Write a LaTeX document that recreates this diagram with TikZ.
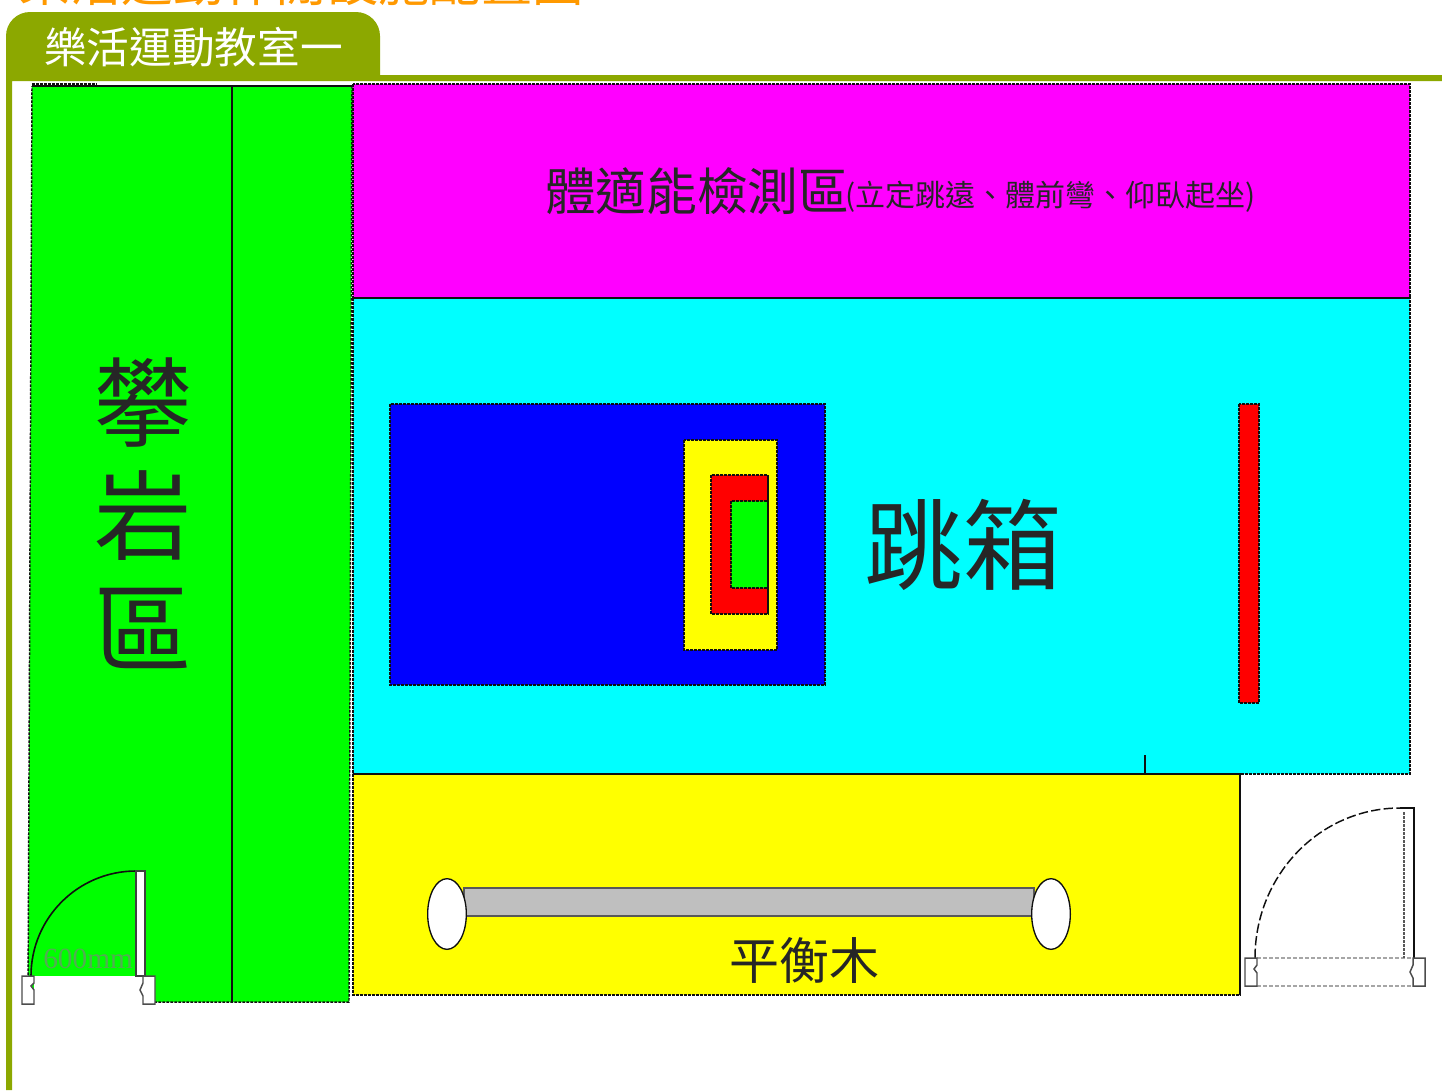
\documentclass[tikz,border=0pt]{standalone}
\usepackage{fontspec}
\usetikzlibrary{shapes.geometric,patterns}
\setmainfont{Noto Sans CJK TC}
\newfontfamily\latinf{Liberation Serif}
\definecolor{olive}{HTML}{8CA800}
\definecolor{titleor}{HTML}{FF9900}
\definecolor{pgreen}{HTML}{00FF00}
\definecolor{pmag}{HTML}{FF00FF}
\definecolor{pcyan}{HTML}{00FFFF}
\definecolor{pblue}{HTML}{0000FF}
\definecolor{pyel}{HTML}{FFFF00}
\definecolor{pred}{HTML}{FF0000}
\definecolor{ink}{HTML}{101010}
\tikzset{
 room/.style={draw=ink,line width=1.1pt,dash pattern=on 2pt off 1pt},
 solidline/.style={draw=ink,line width=1pt},
 greydash/.style={draw=gray!70,line width=0.9pt,dash pattern=on 3pt off 1.5pt},
 lbl/.style={inner sep=0pt,text=black!85},
 post/.style={draw=ink!75,line width=1.1pt,fill=white},
 beamend/.style={draw=ink,line width=1pt,fill=white,ellipse,minimum width=29pt,minimum height=53pt,inner sep=0pt},
}
\newcommand{\fpx}[2]{\fontsize{#1}{#2}\selectfont}
\begin{document}
\begin{tikzpicture}[x=0.75pt,y=-0.75pt]
\useasboundingbox (0,0) rectangle (1442,1090);
\fill[white] (0,0) rectangle (1442,1090);
% cut-off title
\begin{scope}
\clip (0,0) rectangle (1442,6);
\node[lbl,anchor=west,text=titleor,font=\fpx{38.5}{40}] (title) at (19,-18) {樂活運動休閒設施配置圖};
\end{scope}
% template frame
\fill[olive] (6,81) -- (6,36) arc[start angle=180,end angle=90,x radius=24,y radius=-24] -- (356,12) arc[start angle=90,end angle=0,x radius=24,y radius=-24] -- (380,75) -- (1442,75) -- (1442,81) -- (12,81) -- (12,1090) -- (6,1090) -- cycle;
\node[lbl,anchor=west,text=white,font=\fpx{32}{34}] (tab) at (44,47) {樂活運動教室一};
% climbing area
\path[fill=pgreen,room] (32,86) -- (352,86) -- (349,1002) -- (28,1002) -- cycle;
\draw[solidline] (32,86) -- (352,86);
\draw[solidline] (232,86) -- (232,1002);
\draw[room] (32,84) -- (97,84);
\node[lbl,font=\fpx{73}{75}] (pan) at (143,403) {攀};
\node[lbl,font=\fpx{73}{75}] (yan) at (143,516) {岩};
\node[lbl,font=\fpx{73}{75}] (qu) at (143,628) {區};
% fitness area
\path[fill=pmag,room] (353,84) rectangle (1410,298);
\node[lbl,anchor=west,font=\fpx{38}{40}] (fit) at (545,191) {體適能檢測區};
\node[lbl,anchor=west,font=\fpx{22.5}{24}] (fitsub) at (845,197) {(立定跳遠、體前彎、仰臥起坐)};
% vaulting area
\path[fill=pcyan,room] (353,298) rectangle (1410,774);
\draw[solidline] (353,298) -- (1410,298);
\path[fill=pblue,room] (390,404) rectangle (825,685);
\path[fill=pyel,room] (684,440) rectangle (777,650);
\path[fill=pred,room] (711,475) rectangle (768,614);
\path[fill=pgreen,room] (731,501) rectangle (768,588);
\draw[solidline] (768,475) -- (768,614);
\node[lbl,font=\fpx{74}{76}] (box) at (963,545) {跳箱};
\path[fill=pred,room] (1239,404) rectangle (1259,703);
\draw[solidline] (1145,755) -- (1145,774);
% beam area
\path[fill=pyel,room] (353,774) rectangle (1240,995);
\draw[solidline] (353,774) -- (1240,774);
\draw[solidline] (1240,774) -- (1240,995);
\path[fill=gray!50,draw=ink!70,line width=1.2pt] (464,888) rectangle (1034,916);
\node[beamend] (bl) at (447,914) {};
\node[beamend] (br) at (1051,914) {};
\node[lbl,font=\fpx{37.5}{39}] (beam) at (804,960) {平衡木};
% left door
\fill[white] (34,976) rectangle (150,1003);
\node[lbl,text=gray!65!pgreen,anchor=west,font=\latinf\fpx{22}{24}] (mm) at (43,959) {600mm};
\draw[solidline,line width=1.2pt] (31,976) arc[start angle=180,end angle=90,x radius=105,y radius=-105];
\path[post,draw=ink!80] (136,871) rectangle (145,976);
\path[post] (22,976) -- (34,976) -- (34,983) -- (31,986) -- (34,990) -- (34,1004) -- (22,1004) -- cycle;
\path[post] (155,976) -- (143,976) -- (143,983) -- (140,990) -- (143,996) -- (143,1004) -- (155,1004) -- cycle;
% right door
\fill[white] (1257,958) rectangle (1413,986);
\draw[greydash] (1257,958) -- (1413,958);
\draw[greydash] (1257,986) -- (1413,986);
\draw[ink,line width=1.1pt,dash pattern=on 7pt off 2.5pt] (1255,958) arc[start angle=180,end angle=90,x radius=145,y radius=-150];
\draw[draw=ink!70,line width=1.6pt,dash pattern=on 2pt off 1pt] (1404,812) -- (1404,958);
\draw[solidline] (1400,808) -- (1414,808) -- (1414,958);
\path[post] (1245,958) -- (1257,958) -- (1257,965) -- (1254,969) -- (1257,973) -- (1257,986) -- (1245,986) -- cycle;
\path[post] (1425,958) -- (1413,958) -- (1413,965) -- (1410,972) -- (1413,978) -- (1413,986) -- (1425,986) -- cycle;
\end{tikzpicture}
\end{document}
